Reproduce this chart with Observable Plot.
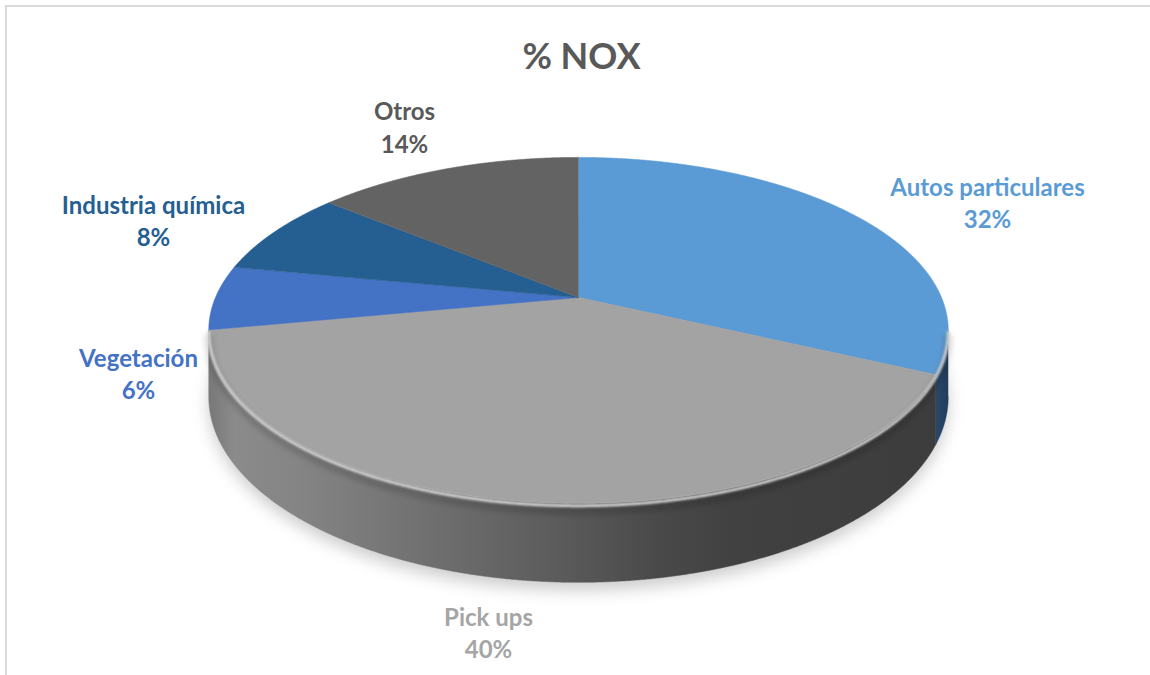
<!DOCTYPE html>
<html><head><meta charset="utf-8">
<script src="https://cdn.jsdelivr.net/npm/d3@7"></script>
<script src="https://cdn.jsdelivr.net/npm/@observablehq/plot@0.6"></script>
<style>
html,body{margin:0;padding:0;background:#fff;overflow:hidden;width:1150px;height:675px}
#frame{position:absolute;left:5px;top:5px;width:1200px;height:720px;border:2px solid #d9d9d9;box-sizing:border-box}
#chart{position:absolute;left:0;top:0}
</style></head><body>
<div id="frame"></div><div id="chart"></div>
<script>
// ---- data ----
const title = "% NOX";
const categories = ["Autos particulares", "Pick ups", "Vegetación", "Industria química", "Otros"];
const values = [32, 40, 6, 8, 14];
const sliceColors = ["#5B9BD5", "#A3A3A3", "#4472C4", "#255E91", "#636363"];
const labelColors = ["#5B9BD5", "#A5A5A5", "#4472C4", "#255E91", "#595959"];

// ---- layout / style ----
const W = 1150, H = 675;
const geo = {cx: 578, cy: 297, A: 363, B: 166.7, p: 0.19, D: 64};
const labelPos = [[987, 195, 227], [488, 625, 657], [138, 366, 398], [153, 213, 245], [404, 119, 152]];
const sideFills = ["url(#sideBlue)", "url(#sideGray)", "#2f4f8a", "#1a3f63", "#444"];
const fontSize = 24, titleSize = 36, font = "Lato";

const total = d3.sum(values);
const deg = Math.PI / 180;
function proj(a, h) {
  const X = Math.sin(a), Z = Math.cos(a), w = 1 + geo.p * Z;
  return [geo.cx + geo.A * X / w, geo.cy + (-geo.B * Z + h * geo.D) / w];
}
function arc(a0, a1, h) {
  const n = Math.max(2, Math.ceil((a1 - a0) / (0.25 * deg)));
  return d3.range(n + 1).map(i => proj(a0 + (a1 - a0) * i / n, h));
}
let acc = 0;
const slices = categories.map((c, i) => {
  const a0 = acc / total * 2 * Math.PI; acc += values[i];
  const a1 = acc / total * 2 * Math.PI;
  return {c, i, a0, a1};
});
const aR = Math.acos(-geo.p), aL = 2 * Math.PI - aR;
const toRows = pts => pts.map(([x, y]) => ({x, y}));

const marks = [];
// shadow
marks.push(Plot.line(toRows(arc(0, 2 * Math.PI, 1.1)), {x: "x", y: "y", fill: "#000", stroke: "none", fillOpacity: 0.2, ariaDescription: "shadow"}));
// sides
slices.forEach(s => {
  const s0 = Math.max(s.a0, aR), s1 = Math.min(s.a1, aL);
  if (s0 >= s1) return;
  const pts = [...arc(s0, s1, 0), ...arc(s0, s1, 1).reverse()];
  marks.push(Plot.line(toRows(pts), {x: "x", y: "y", fill: sideFills[s.i], stroke: sideFills[s.i], strokeWidth: 0.5}));
});
// top faces
slices.forEach(s => {
  const pts = [[geo.cx, geo.cy], ...arc(s.a0, s.a1, 0)];
  marks.push(Plot.line(toRows(pts), {x: "x", y: "y", fill: sliceColors[s.i], stroke: sliceColors[s.i], strokeWidth: 0.6}));
});
// bevel shading
marks.push(Plot.line(toRows(arc(aR, aL, 0.1)), {x: "x", y: "y", stroke: "#000", strokeOpacity: 0.2, strokeWidth: 6, ariaDescription: "bevelDark"}));
marks.push(Plot.line(toRows(arc(aR, aL, 0.03)), {x: "x", y: "y", stroke: "#d4d4d4", strokeWidth: 3, ariaDescription: "bevelLight"}));

// labels
const labelRows = categories.flatMap((c, i) => [
  {t: c, x: labelPos[i][0], y: labelPos[i][1] - 0.32 * fontSize, col: labelColors[i]},
  {t: values[i] + "%", x: labelPos[i][0], y: labelPos[i][2] - 0.32 * fontSize, col: labelColors[i]}
]);
marks.push(Plot.text(labelRows, {x: "x", y: "y", text: "t", fill: d => d.col, fontSize, fontWeight: "bold", fontFamily: font, textAnchor: "middle", lineAnchor: "middle"}));
marks.push(Plot.text([title], {x: () => 581, y: () => 68 - 0.32 * titleSize, text: d => d, fill: "#595959", fontSize: titleSize, fontWeight: "bold", fontFamily: font, textAnchor: "middle", lineAnchor: "middle"}));

const chart = Plot.plot({
  width: W, height: H, margin: 0,
  x: {domain: [0, W], range: [0, W], axis: null},
  y: {domain: [0, H], range: [0, H], axis: null},
  style: {background: "transparent", overflow: "visible"},
  marks
});
const svg = d3.select(chart);
const defs = svg.insert("defs", ":first-child");
const g1 = defs.append("linearGradient").attr("id", "sideGray").attr("gradientUnits", "userSpaceOnUse")
  .attr("x1", 212).attr("x2", 950).attr("y1", 0).attr("y2", 0);
[[0, "#7a7a7a"], [0.03, "#8b8b8b"], [0.12, "#848484"], [0.28, "#717171"], [0.47, "#5b5b5b"], [0.6, "#4a4a4a"], [0.7, "#414141"], [1, "#3c3c3c"]]
  .forEach(([o, c]) => g1.append("stop").attr("offset", o).attr("stop-color", c));
const g2 = defs.append("linearGradient").attr("id", "sideBlue").attr("gradientUnits", "userSpaceOnUse")
  .attr("x1", 930).attr("x2", 955).attr("y1", 0).attr("y2", 0);
[[0, "#2c4d70"], [1, "#1d3550"]].forEach(([o, c]) => g2.append("stop").attr("offset", o).attr("stop-color", c));
const f1 = defs.append("filter").attr("id", "blurShadow").attr("x", "-20%").attr("y", "-20%").attr("width", "140%").attr("height", "140%");
f1.append("feGaussianBlur").attr("stdDeviation", 8);
const f2 = defs.append("filter").attr("id", "blurSoft").attr("x", "-10%").attr("y", "-10%").attr("width", "120%").attr("height", "120%");
f2.append("feGaussianBlur").attr("stdDeviation", 1.3);
const f3 = defs.append("filter").attr("id", "blurMid").attr("x", "-10%").attr("y", "-10%").attr("width", "120%").attr("height", "120%");
f3.append("feGaussianBlur").attr("stdDeviation", 3);
svg.selectAll('[aria-description="shadow"]').attr("filter", "url(#blurShadow)");
svg.selectAll('[aria-description="bevelLight"]').attr("filter", "url(#blurSoft)");
svg.selectAll('[aria-description="bevelDark"]').attr("filter", "url(#blurMid)");
document.getElementById("chart").appendChild(chart);
</script>
</body></html>
